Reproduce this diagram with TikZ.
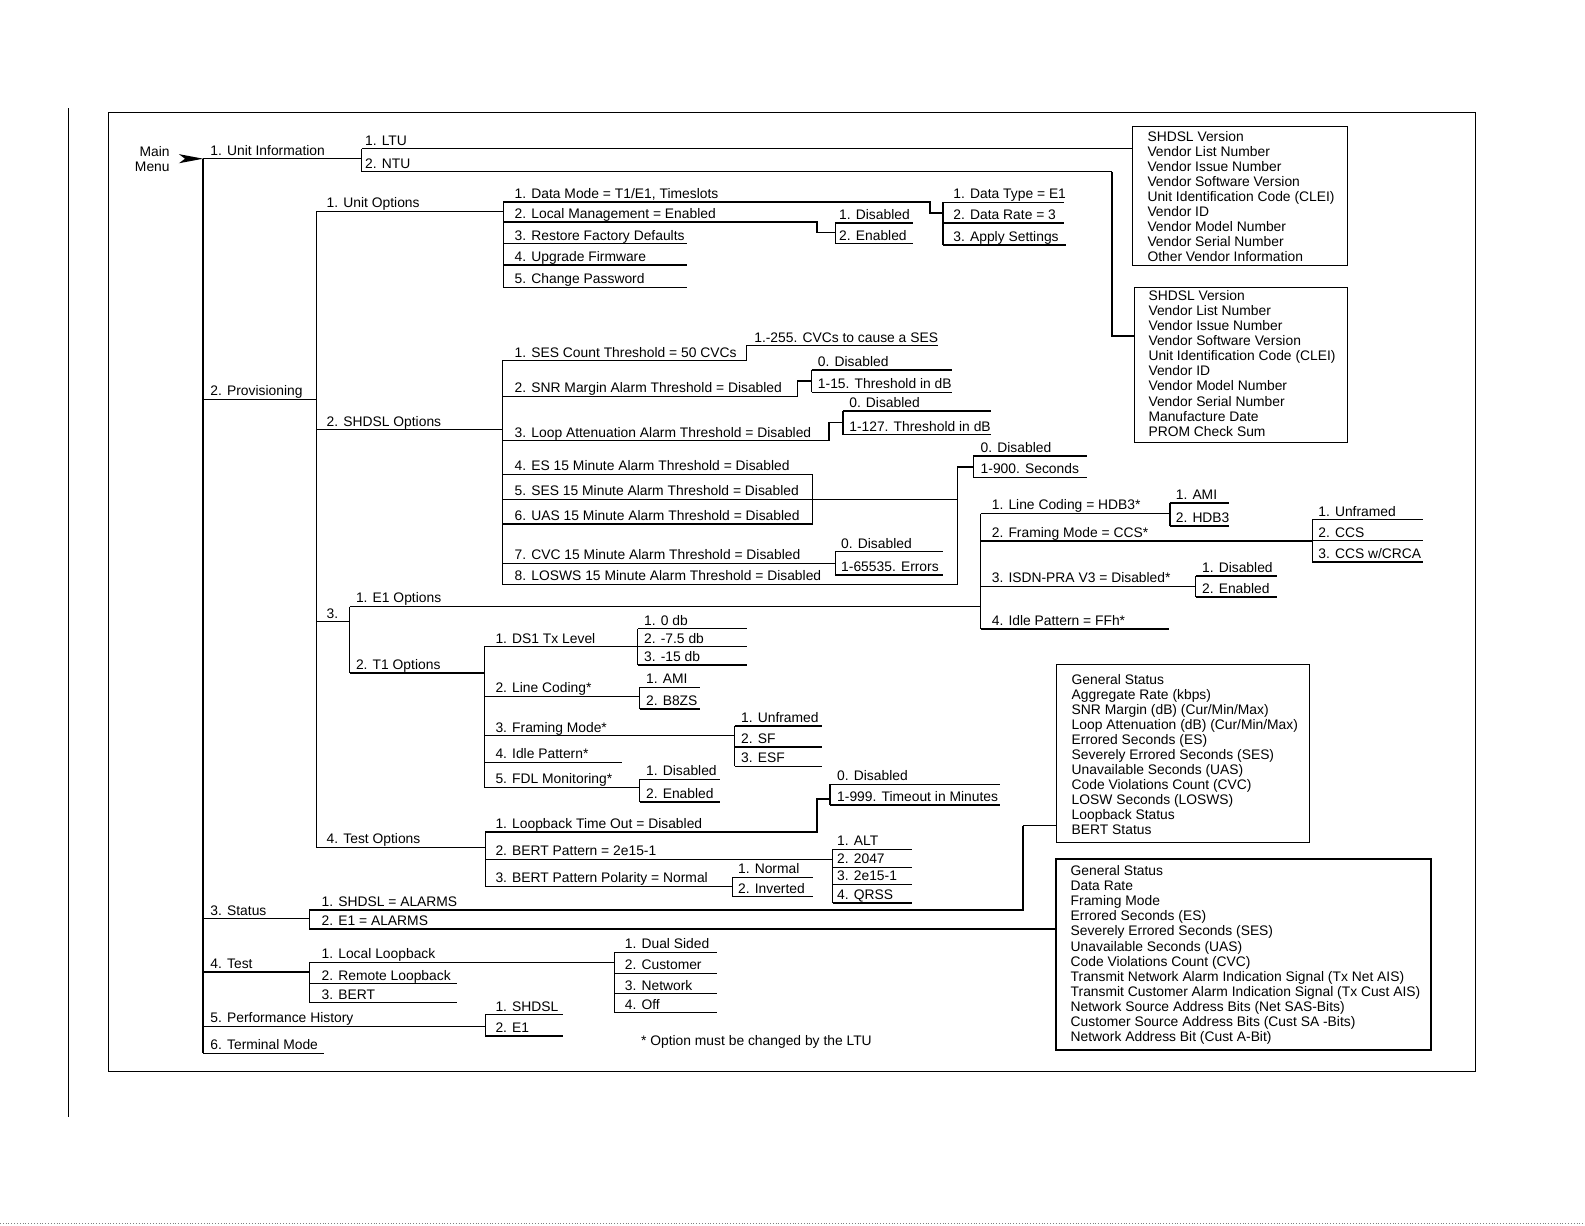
\documentclass[tikz,border=0pt]{standalone}
\usepackage{fontspec}
\setmainfont{Liberation Sans}
\usetikzlibrary{arrows.meta}
\newcommand\lblfont{\fontsize{13.7}{14.9}\selectfont}
\newcommand\T[4]{\node[lbl] (#1) at (#2,#3-3.5) {#4};}
\tikzset{
  lbl/.style={anchor=base west, inner sep=0pt, font=\lblfont},
  tl/.style={line width=0.9pt},
  tk/.style={line width=1.9pt},
  tm/.style={line width=1.4pt},
  boxframe/.style={draw, line width=1pt, anchor=north west, inner sep=0pt},
  boxtext/.style={anchor=west, align=left, inner sep=0pt, font=\lblfont},
}
\begin{document}
\begin{tikzpicture}[x=1pt,y=-1pt]
\useasboundingbox (0,0) rectangle (1568,1212);
% page furniture
\draw[line width=1pt] (107,111) rectangle (1460,1060);
\draw[line width=1.2pt] (68,107) -- (68,1105);
\draw[dotted, gray, line width=0.8pt] (0,1210) -- (1568,1210);

% main menu
\node[anchor=east, align=right, inner sep=0pt, font=\lblfont] (mm) at (168,157) {Main\\Menu};
\fill (177,152.5) -- (201,157) -- (177,161.5) -- (183,157) -- cycle;
\draw[tm] (201,157) -- (201,1042);

% 1. Unit information
\T{ui}{208}{157}{1. Unit Information}
\draw[tl] (201,157) -- (358,157);
\draw[tl] (358,147) -- (358,170);
\T{ltu}{361}{147}{1. LTU}
\draw[tl] (358,147) -- (1120,147);
\T{ntu}{361}{170}{2. NTU}
\draw[tl] (358,170) -- (1100,170);
\draw[tk] (1100,170) -- (1100,332) -- (1122,332);
\node[boxframe, minimum width=213pt, minimum height=137pt] (b1) at (1120,125) {};
\node[boxtext] (b1t) at ([xshift=15pt,yshift=-0.5pt]b1.west) {SHDSL Version\\Vendor List Number\\Vendor Issue Number\\Vendor Software Version\\Unit Identification Code (CLEI)\\Vendor ID\\Vendor Model Number\\Vendor Serial Number\\Other Vendor Information};
\node[boxframe, minimum width=211pt, minimum height=153pt] (b2) at (1122,284) {};
\node[boxtext] (b2t) at ([xshift=14pt,yshift=1.5pt]b2.west) {SHDSL Version\\Vendor List Number\\Vendor Issue Number\\Vendor Software Version\\Unit Identification Code (CLEI)\\Vendor ID\\Vendor Model Number\\Vendor Serial Number\\Manufacture Date\\PROM Check Sum};

% 2. Provisioning
\T{prov}{208}{395}{2. Provisioning}
\draw[tl] (201,395) -- (313,395);
\draw[tl] (313,209) -- (313,838);

% 1. Unit options
\T{uo}{323}{209}{1. Unit Options}
\draw[tl] (313,209) -- (498,209);
\draw[tl] (498,200) -- (498,284);
\T{uo1}{509}{200}{1. Data Mode = T1/E1, Timeslots}
\draw[tk] (498,200) -- (920,200) -- (920,211) -- (933,211);
\T{uo2}{509}{220}{2. Local Management = Enabled}
\draw[tk] (498,220) -- (808,220) -- (808,230) -- (826,230);
\T{uo3}{509}{241}{3. Restore Factory Defaults}
\draw[tl] (498,241) -- (680,241);
\T{uo4}{509}{262}{4. Upgrade Firmware}
\draw[tk] (498,262) -- (680,262);
\T{uo5}{509}{284}{5. Change Password}
\draw[tl] (498,284) -- (680,284);
\draw[tl] (826,221) -- (826,241);
\T{lm1}{830}{221}{1. Disabled}
\draw[tk] (826,221) -- (903,221);
\T{lm2}{830}{241}{2. Enabled}
\draw[tl] (826,241) -- (903,241);
\draw[tk] (933,200) -- (933,242);
\T{dm1}{943}{200}{1. Data Type = E1}
\draw[tl] (933,200) -- (1053,200);
\T{dm2}{943}{221}{2. Data Rate = 3}
\draw[tk] (933,221) -- (1053,221);
\T{dm3}{943}{242}{3. Apply Settings}
\draw[tk] (933,242) -- (1055,242);

% 2. SHDSL options
\T{so}{323}{425}{2. SHDSL Options}
\draw[tl] (313,425) -- (497,425);
\draw[tl] (497,357) -- (497,578);
\T{so1}{509}{357}{1. SES Count Threshold = 50 CVCs}
\draw[tl] (497,357) -- (738,357) -- (738,342) -- (928,342);
\T{so1a}{746}{342}{1.-255. CVCs to cause a SES}
\T{so2}{509}{392}{2. SNR Margin Alarm Threshold = Disabled}
\draw[tl] (497,392) -- (789,392);
\draw[tm] (789,392) -- (789,377) -- (803,377);
\draw[tm] (803,366) -- (803,388);
\T{so2a}{809}{366}{0. Disabled}
\draw[tk] (803,366) -- (942,366);
\T{so2b}{809}{388}{1-15. Threshold in dB}
\draw[tl] (803,388) -- (942,388);
\T{so3}{509}{436}{3. Loop Attenuation Alarm Threshold = Disabled}
\draw[tl] (497,436) -- (820,436);
\draw[tm] (820,436) -- (820,418) -- (834,418);
\draw[tm] (834,407) -- (834,430);
\T{so3a}{840}{407}{0. Disabled}
\draw[tk] (834,407) -- (980,407);
\T{so3b}{840}{430}{1-127. Threshold in dB}
\draw[tl] (834,430) -- (980,430);
\T{so4}{509}{469}{4. ES 15 Minute Alarm Threshold = Disabled}
\draw[tl] (497,469) -- (804,469) -- (804,518);
\T{so5}{509}{494}{5. SES 15 Minute Alarm Threshold = Disabled}
\draw[tl] (497,494) -- (947,494);
\T{so6}{509}{518}{6. UAS 15 Minute Alarm Threshold = Disabled}
\draw[tk] (497,518) -- (804,518);
\T{so7}{509}{557}{7. CVC 15 Minute Alarm Threshold = Disabled}
\draw[tl] (497,557) -- (826,557);
\draw[tl] (826,546) -- (826,569);
\T{so7a}{832}{546}{0. Disabled}
\draw[tl] (826,546) -- (933,546);
\T{so7b}{832}{569}{1-65535. Errors}
\draw[tk] (826,569) -- (933,569);
\T{so8}{509}{578}{8. LOSWS 15 Minute Alarm Threshold = Disabled}
\draw[tl] (497,578) -- (947,578) -- (947,462);
\draw[tm] (947,462) -- (963,462);
\draw[tm] (963,451) -- (963,472);
\T{so8a}{970}{451}{0. Disabled}
\draw[tk] (963,451) -- (1075,451);
\T{so8b}{970}{472}{1-900. Seconds}
\draw[tl] (963,472) -- (1075,472);

% 3. E1 / T1
\T{e1t1}{323}{615}{3.}
\draw[tl] (313,615) -- (346,615);
\draw[tl] (346,600) -- (346,666);
\T{e1}{352}{600}{1. E1 Options}
\draw[tl] (346,600) -- (970,600);
\T{t1}{352}{666}{2. T1 Options}
\draw[tk] (346,666) -- (479,666);

\draw[tk] (970,508) -- (970,622);
\T{e11}{981}{508}{1. Line Coding = HDB3*}
\draw[tl] (970,508) -- (1157,508);
\draw[tk] (1157,498) -- (1157,520);
\T{e11a}{1163}{498}{1. AMI}
\draw[tk] (1157,498) -- (1216,498);
\T{e11b}{1163}{520}{2. HDB3}
\draw[tk] (1157,520) -- (1216,520);
\T{e12}{981}{535}{2. Framing Mode = CCS*}
\draw[tk] (970,535) -- (1298,535);
\draw[tl] (1298,514) -- (1298,556);
\T{e12a}{1304}{514}{1. Unframed}
\draw[tl] (1298,514) -- (1408,514);
\T{e12b}{1304}{535}{2. CCS}
\draw[tl] (1298,535) -- (1408,535);
\T{e12c}{1304}{556}{3. CCS w/CRCA}
\draw[tk] (1298,556) -- (1408,556);
\T{e13}{981}{580}{3. ISDN-PRA V3 = Disabled*}
\draw[tl] (970,580) -- (1183,580);
\draw[tl] (1183,570) -- (1183,591);
\T{e13a}{1189}{570}{1. Disabled}
\draw[tk] (1183,570) -- (1263,570);
\T{e13b}{1189}{591}{2. Enabled}
\draw[tk] (1183,591) -- (1263,591);
\T{e14}{981}{622}{4. Idle Pattern = FFh*}
\draw[tk] (970,622) -- (1156,622);

\draw[tl] (479,640) -- (479,779);
\T{t11}{490}{640}{1. DS1 Tx Level}
\draw[tl] (479,640) -- (631,640);
\draw[tl] (631,622) -- (631,658);
\T{t11a}{637}{622}{1. 0 db}
\draw[tl] (631,622) -- (739,622);
\T{t11b}{637}{640}{2. -7.5 db}
\draw[tl] (631,640) -- (739,640);
\T{t11c}{637}{658}{3. -15 db}
\draw[tk] (631,658) -- (739,658);
\T{t12}{490}{689}{2. Line Coding*}
\draw[tk] (479,689) -- (633,689);
\draw[tl] (633,680) -- (633,701);
\T{t12a}{639}{680}{1. AMI}
\draw[tl] (633,680) -- (692,680);
\T{t12b}{639}{701}{2. B8ZS}
\draw[tk] (633,701) -- (692,701);
\T{t13}{490}{728}{3. Framing Mode*}
\draw[tl] (479,728) -- (727,728);
\draw[tl] (727,718) -- (727,758);
\T{t13a}{733}{718}{1. Unframed}
\draw[tk] (727,718) -- (813,718);
\T{t13b}{733}{739}{2. SF}
\draw[tk] (727,739) -- (813,739);
\T{t13c}{733}{758}{3. ESF}
\draw[tl] (727,758) -- (813,758);
\T{t14}{490}{754}{4. Idle Pattern*}
\draw[tl] (479,754) -- (615,754);
\T{t15}{490}{779}{5. FDL Monitoring*}
\draw[tl] (479,779) -- (633,779);
\draw[tl] (633,771) -- (633,793);
\T{t15a}{639}{771}{1. Disabled}
\draw[tl] (633,771) -- (712,771);
\T{t15b}{639}{793}{2. Enabled}
\draw[tk] (633,793) -- (712,793);

% 4. Test options
\T{to}{323}{838}{4. Test Options}
\draw[tl] (313,838) -- (480,838);
\draw[tl] (480,823) -- (480,877);
\T{to1}{490}{823}{1. Loopback Time Out = Disabled}
\draw[tk] (480,823) -- (808,823) -- (808,790) -- (821,790);
\draw[tk] (821,776) -- (821,796);
\T{to1a}{828}{776}{0. Disabled}
\draw[tl] (821,776) -- (989,776);
\T{to1b}{828}{796}{1-999. Timeout in Minutes}
\draw[tk] (821,796) -- (989,796);
\T{to2}{490}{850}{2. BERT Pattern = 2e15-1}
\draw[tl] (480,850) -- (824,850);
\draw[tl] (824,840) -- (824,893);
\T{to2a}{828}{840}{1. ALT}
\draw[tl] (824,840) -- (902,840);
\T{to2b}{828}{858}{2. 2047}
\draw[tl] (824,858) -- (902,858);
\T{to2c}{828}{875}{3. 2e15-1}
\draw[tk] (824,875) -- (902,875);
\T{to2d}{828}{893}{4. QRSS}
\draw[tk] (824,893) -- (902,893);
\T{to3}{490}{877}{3. BERT Pattern Polarity = Normal}
\draw[tl] (480,877) -- (725,877);
\draw[tl] (725,868) -- (725,887);
\T{to3a}{730}{868}{1. Normal}
\draw[tl] (725,868) -- (804,868);
\T{to3b}{730}{887}{2. Inverted}
\draw[tl] (725,887) -- (804,887);

% 3. Status
\T{st}{208}{909}{3. Status}
\draw[tl] (201,909) -- (306,909);
\draw[tm] (306,900) -- (306,919);
\T{st1}{318}{900}{1. SHDSL = ALARMS}
\draw[tk] (306,900) -- (1012,900) -- (1012,817);
\draw[tl] (1012,817) -- (1045,817);
\T{st2}{318}{919}{2. E1 = ALARMS}
\draw[tk] (306,919) -- (1044,919);
\node[boxframe, minimum width=250pt, minimum height=176pt] (sb1) at (1045,657) {};
\node[boxtext] (sb1t) at ([xshift=15pt,yshift=-1pt]sb1.west) {General Status\\Aggregate Rate (kbps)\\SNR Margin (dB) (Cur/Min/Max)\\Loop Attenuation (dB) (Cur/Min/Max)\\Errored Seconds (ES)\\Severely Errored Seconds (SES)\\Unavailable Seconds (UAS)\\Code Violations Count (CVC)\\LOSW Seconds (LOSWS)\\Loopback Status\\BERT Status};
\node[boxframe, line width=1.5pt, minimum width=371pt, minimum height=189pt] (sb2) at (1044,849) {};
\node[boxtext] (sb2t) at ([xshift=15pt,yshift=-0.5pt]sb2.west) {General Status\\Data Rate\\Framing Mode\\Errored Seconds (ES)\\Severely Errored Seconds (SES)\\Unavailable Seconds (UAS)\\Code Violations Count (CVC)\\Transmit Network Alarm Indication Signal (Tx Net AIS)\\Transmit Customer Alarm Indication Signal (Tx Cust AIS)\\Network Source Address Bits (Net SAS-Bits)\\Customer Source Address Bits (Cust SA -Bits)\\Network Address Bit (Cust A-Bit)};

% 4. Test
\T{te}{208}{962}{4. Test}
\draw[tk] (201,962) -- (306,962);
\draw[tl] (306,952) -- (306,992);
\T{te1}{318}{952}{1. Local Loopback}
\draw[tl] (306,952) -- (608,952);
\draw[tl] (608,942) -- (608,1002);
\T{te1a}{618}{942}{1. Dual Sided}
\draw[tl] (608,942) -- (709,942);
\T{te1b}{618}{963}{2. Customer}
\draw[tl] (608,963) -- (709,963);
\T{te1c}{618}{983}{3. Network}
\draw[tl] (608,983) -- (709,983);
\T{te1d}{618}{1002}{4. Off}
\draw[tl] (608,1002) -- (709,1002);
\T{te2}{318}{973}{2. Remote Loopback}
\draw[tl] (306,973) -- (452,973);
\T{te3}{318}{992}{3. BERT}
\draw[tl] (306,992) -- (452,992);

% 5. Performance history
\T{ph}{208}{1015}{5. Performance History}
\draw[tl] (201,1015) -- (480,1015);
\draw[tl] (480,1004) -- (480,1025);
\T{ph1}{490}{1004}{1. SHDSL}
\draw[tl] (480,1004) -- (557,1004);
\T{ph2}{490}{1025}{2. E1}
\draw[tk] (480,1025) -- (557,1025);

% 6. Terminal mode
\T{tm}{208}{1042}{6. Terminal Mode}
\draw[tl] (201,1042) -- (321,1042);

\T{note}{634}{1038}{* Option must be changed by the LTU}
\end{tikzpicture}
\end{document}
